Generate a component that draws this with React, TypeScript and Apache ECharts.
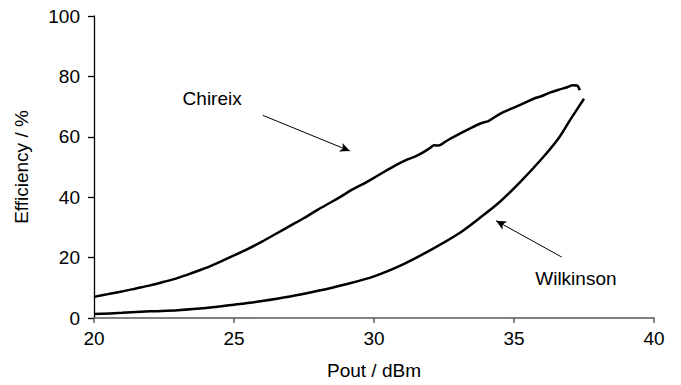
import React, { useEffect, useRef } from "react";
import * as echarts from "echarts";

const xTicks = { min: 20, max: 40, interval: 5 };
const yTicks = { min: 0, max: 100, interval: 20 };

const chireix: [number, number][] = [
  [20, 7.0], [20.5, 7.9], [21, 8.8], [21.5, 9.8], [22, 10.8], [22.5, 12.0],
  [23, 13.3], [23.5, 14.9], [24, 16.6], [24.5, 18.6], [25, 20.7], [25.5, 22.9],
  [26, 25.3], [26.5, 27.9], [27, 30.5], [27.5, 33.1], [28, 35.9], [28.4, 38.0],
  [28.8, 40.1], [29.2, 42.4], [29.6, 44.3], [30, 46.4], [30.4, 48.6], [30.8, 50.7],
  [31.2, 52.5], [31.5, 53.6], [31.8, 55.1], [32.0, 56.3], [32.15, 57.2], [32.3, 57.1],
  [32.6, 58.7], [33.0, 60.7], [33.4, 62.6], [33.8, 64.4], [34.1, 65.3], [34.5, 67.6],
  [34.9, 69.3], [35.3, 70.9], [35.7, 72.6], [36.0, 73.5], [36.3, 74.7], [36.6, 75.6],
  [36.9, 76.4], [37.1, 77.1], [37.25, 77.0], [37.35, 75.4],
];

const wilkinson: [number, number][] = [
  [20, 1.3], [21, 1.7], [22, 2.2], [23, 2.6], [24, 3.3], [25, 4.4], [26, 5.6],
  [27, 7.1], [28, 9.0], [29, 11.2], [30, 13.8], [31, 17.6], [32, 22.4], [33, 27.8],
  [33.8, 33.3], [34.5, 38.5], [35.2, 44.8], [36, 52.8], [36.6, 59.6], [37, 65.5],
  [37.5, 72.6],
];

const chireixArrow: [number, number][] = [[26.03, 67.1], [29.14, 55.3]];
const wilkinsonArrow: [number, number][] = [[36.7, 20.2], [34.36, 32.2]];
const chireixLabel: [number, number] = [24.22, 72.8];
const wilkinsonLabel: [number, number] = [37.21, 13.2];

const FONT = "Liberation Sans";

export default function App() {
  const ref = useRef<HTMLDivElement>(null);
  useEffect(() => {
    if (!ref.current) return;
    const chart = echarts.init(ref.current, null, { renderer: "svg" });
    const makeSeries = (
      name: string,
      data: [number, number][],
      arrow: [number, number][],
      label: [number, number]
    ) => ({
      name,
      type: "line",
      data,
      showSymbol: false,
      symbol: "none",
      smooth: 0.3,
      lineStyle: { color: "#000", width: 2.5 },
      markLine: {
        silent: true,
        symbol: ["none", "arrow"],
        symbolSize: [7, 10],
        lineStyle: { color: "#000", width: 1, type: "solid" },
        label: { show: false },
        data: [[{ coord: arrow[0] }, { coord: arrow[1] }]],
      },
      markPoint: {
        silent: true,
        symbol: "circle",
        symbolSize: 1,
        itemStyle: { color: "rgba(0,0,0,0)" },
        label: {
          show: true,
          position: "inside",
          formatter: name,
          color: "#000",
          fontFamily: FONT,
          fontSize: 19,
        },
        data: [{ coord: label }],
      },
    });
    chart.setOption({
      animation: false,
      backgroundColor: "#fff",
      grid: { left: 94, right: 27, top: 16, bottom: 63.5, containLabel: false },
      xAxis: {
        type: "value",
        min: xTicks.min,
        max: xTicks.max,
        interval: xTicks.interval,
        name: "Pout / dBm",
        nameLocation: "middle",
        nameGap: 43,
        nameTextStyle: { color: "#000", fontFamily: FONT, fontSize: 19 },
        axisLine: { lineStyle: { color: "#5a5a5a", width: 1.5 } },
        axisTick: { show: true, length: 5, lineStyle: { color: "#5a5a5a", width: 1.5 } },
        axisLabel: { color: "#000", fontFamily: FONT, fontSize: 19, margin: 11 },
        splitLine: { show: false },
      },
      yAxis: {
        type: "value",
        min: yTicks.min,
        max: yTicks.max,
        interval: yTicks.interval,
        name: "Efficiency / %",
        nameLocation: "middle",
        nameGap: 63,
        nameTextStyle: { color: "#000", fontFamily: FONT, fontSize: 19 },
        axisLine: { show: true, lineStyle: { color: "#000", width: 1.3 } },
        axisTick: { show: true, length: 6, lineStyle: { color: "#000", width: 1.3 } },
        axisLabel: { color: "#000", fontFamily: FONT, fontSize: 19, margin: 14 },
        splitLine: { show: false },
      },
      series: [
        makeSeries("Chireix", chireix, chireixArrow, chireixLabel),
        makeSeries("Wilkinson", wilkinson, wilkinsonArrow, wilkinsonLabel),
      ],
    });
    return () => chart.dispose();
  }, []);
  return (
    <div
      ref={ref}
      style={{ position: "fixed", left: 0, top: 0, width: 681, height: 385 }}
    />
  );
}
